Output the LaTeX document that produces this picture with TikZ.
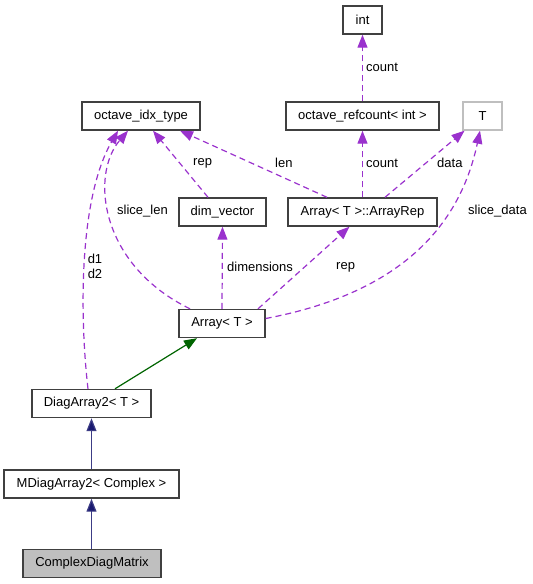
\documentclass[tikz,border=0pt]{standalone}
\usepackage{fontspec}
\setmainfont{Liberation Sans}
\usetikzlibrary{arrows.meta,calc}
\definecolor{edgepurple}{HTML}{9A32CD}
\definecolor{inhgreen}{HTML}{006400}
\definecolor{inhblue}{HTML}{191970}
\definecolor{boxgray}{HTML}{404040}
\definecolor{lightborder}{HTML}{BFBFBF}
\definecolor{fillgray}{HTML}{BFBFBF}
\begin{document}
\begin{tikzpicture}[x=1pt,y=-1pt,
  font=\fontsize{13}{15}\selectfont,
  box/.style={draw=boxgray, line width=1.4pt, fill=white, inner sep=0pt, minimum height=28pt},
  usage/.style={draw=edgepurple, line width=1.2pt, dash pattern=on 6pt off 4pt,
     -{Triangle[length=13pt,width=10pt,fill=edgepurple]}},
  inhg/.style={draw=inhgreen, line width=1.2pt, -{Triangle[length=13pt,width=10pt,fill=inhgreen]}},
  inhb/.style={draw=inhblue!85!white, line width=1.2pt, -{Triangle[length=13pt,width=10pt,fill=inhblue]}},
  lbl/.style={inner sep=0pt, anchor=west}]
\useasboundingbox (0,0) rectangle (533,584);

% nodes
\node[box, minimum width=39pt] (int) at (362.5,20) {int};
\node[box, minimum width=153pt] (refc) at (362.5,116) {octave\_refcount< int >};
\node[box, minimum width=39pt, draw=lightborder] (T) at (482.5,116) {T};
\node[box, minimum width=149pt] (rep) at (362.5,212) {Array< T >::ArrayRep};
\node[box, minimum width=118pt] (idx) at (141,116) {octave\_idx\_type};
\node[box, minimum width=87pt] (dim) at (222.5,212) {dim\_vector};
\node[box, minimum width=86pt] (arr) at (222,323.5) {Array< T >};
\node[box, minimum width=119pt] (diag) at (91.5,403.5) {DiagArray2< T >};
\node[box, minimum width=175pt] (mdiag) at (91.5,484) {MDiagArray2< Complex >};
\node[box, minimum width=138pt, fill=fillgray] (cdm) at (92,563.5) {ComplexDiagMatrix};

% usage edges
\draw[usage] (refc.north) -- (int.south);
\draw[usage] (rep.north) -- (refc.south);
\draw[usage] ($(rep.north)+(22.5,0)$) -- ($(T.south)+(-18,0)$);
\draw[usage] ($(rep.north)+(-35.5,0)$) -- ($(idx.south)+(39,0)$);
\draw[usage] ($(dim.north)+(-14.5,0)$) -- ($(idx.south)+(12,0)$);
\draw[usage] ($(arr.north)+(-32,0)$) .. controls (100,265) and (90,175) .. ($(idx.south)+(-13,0)$);
\draw[usage] ($(diag.north)+(-3.5,0)$) .. controls (80,320) and (78,200) .. ($(idx.south)+(-23,0)$);
\draw[usage] (arr.north) -- (dim.south);
\draw[usage] ($(arr.north)+(36,0)$) -- ($(rep.south)+(-13,0)$);
\draw[usage] ($(arr.east)+(0,-5)$) .. controls (390,295) and (458,235) .. ($(T.south)+(-2.5,0)$);

% inheritance edges
\draw[inhg] ($(diag.north)+(23.5,0)$) -- ($(arr.south)+(-25,0)$);
\draw[inhb] (mdiag.north) -- (diag.south);
\draw[inhb] (cdm.north -| mdiag.north) -- (mdiag.south);

% labels
\node[lbl] (l1) at (366,67) {count};
\node[lbl] (l2) at (366,163) {count};
\node[lbl] (l3) at (437,163) {data};
\node[lbl] (l4) at (275,163) {len};
\node[lbl] (l5) at (193,163) {rep};
\node[lbl] (l6) at (117,211) {slice\_len};
\node[inner sep=0pt, align=center] (l7) at (95,266.5) {d1\\d2};
\node[lbl] (l8) at (227,267) {dimensions};
\node[lbl] (l9) at (336,267) {rep};
\node[lbl] (l10) at (468,211) {slice\_data};
\end{tikzpicture}
\end{document}
